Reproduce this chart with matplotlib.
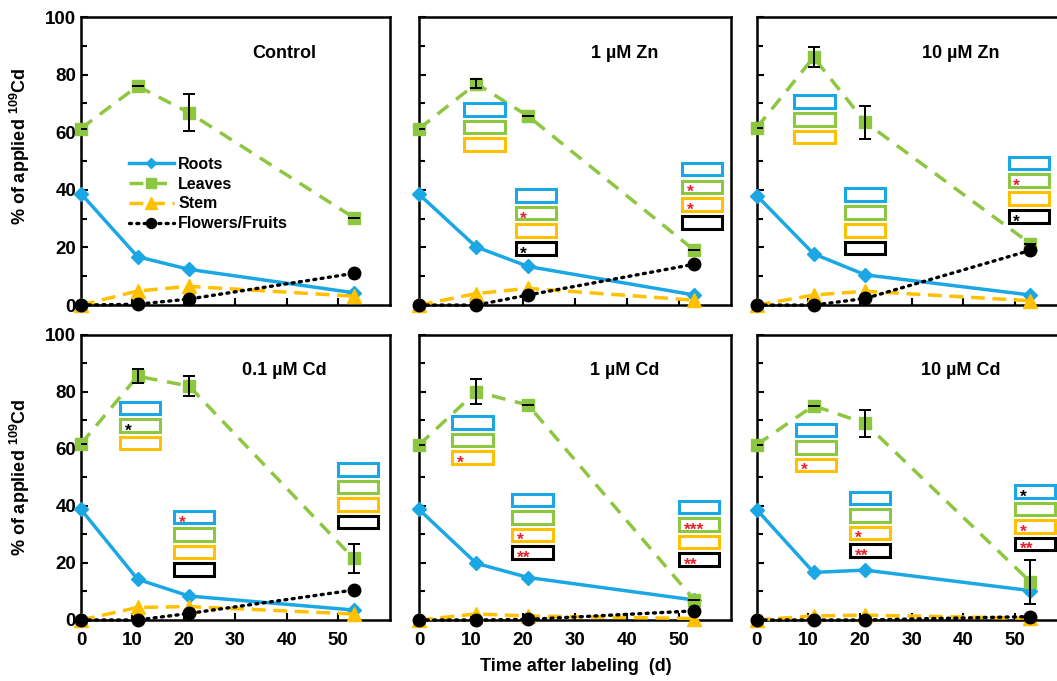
import matplotlib
matplotlib.use("Agg")
import matplotlib.pyplot as plt
from matplotlib.patches import Rectangle

plt.rcParams['font.family'] = ['Liberation Sans', 'DejaVu Sans']
plt.rcParams['font.weight'] = 'bold'
plt.rcParams['mathtext.fontset'] = 'custom'
plt.rcParams['mathtext.rm'] = 'Liberation Sans:bold'
plt.rcParams['mathtext.bf'] = 'Liberation Sans:bold'

# ---- data ----
days = [0, 11, 21, 53]
titles = ["Control", "1 µM Zn", "10 µM Zn", "0.1 µM Cd", "1 µM Cd", "10 µM Cd"]

roots = [
    [38.7, 16.8, 12.4, 4.3],
    [38.5, 20.2, 13.4, 3.5],
    [38.0, 17.8, 10.5, 3.5],
    [38.8, 14.3, 8.4, 3.5],
    [38.8, 19.9, 14.9, 7.0],
    [38.7, 16.7, 17.5, 10.3],
]
leaves = [
    [61.3, 76.0, 66.8, 30.4],
    [61.2, 76.9, 65.6, 19.0],
    [61.6, 86.0, 63.5, 21.3],
    [61.8, 85.5, 82.1, 21.6],
    [61.4, 80.1, 75.4, 7.0],
    [61.5, 75.2, 69.0, 13.4],
]
leaves_err = [
    [0, 0, 6.4, 0],
    [0, 1.5, 0, 0],
    [0, 3.5, 5.7, 0],
    [0, 2.5, 3.5, 5.1],
    [0, 4.4, 0, 0],
    [0, 0, 4.8, 7.8],
]
stem = [
    [0, 4.9, 6.5, 3.1],
    [0, 4.0, 5.8, 1.7],
    [0, 3.5, 4.8, 1.5],
    [0, 4.4, 4.7, 2.1],
    [0, 2.1, 1.4, 0.5],
    [0, 1.4, 1.7, 0.6],
]
flowers = [
    [0, 0.3, 2.1, 11.0],
    [0, 0, 3.5, 14.2],
    [0, 0, 2.3, 19.0],
    [0, 0, 2.3, 10.5],
    [0, 0, 0.2, 3.2],
    [0, 0, 0, 1.2],
]

# significance marks per box (roots, leaves, stem, flowers); prefix k = black
sig_marks = [
    [],
    [["", "", ""], ["", "*", "", "k*"], ["", "*", "*", ""]],
    [["", "", ""], ["", "", "", ""], ["", "*", "", "k*"]],
    [["", "k*", ""], ["*", "", "", ""], ["", "", "", ""]],
    [["", "", "*"], ["", "", "*", "**"], ["", "***", "", "**"]],
    [["", "", "*"], ["", "", "*", "**"], ["k*", "", "*", "**"]],
]
# layout of the box groups: (left day, centre of top box)
box_anchor = [
    [],
    [(8.7, 68.0), (18.6, 38.1), (50.6, 47.2)],
    [(7.3, 70.6), (17.1, 38.3), (48.8, 49.3)],
    [(7.6, 74.4), (18.1, 36.1), (50.0, 52.8)],
    [(6.4, 69.3), (17.9, 42.1), (50.0, 39.6)],
    [(7.6, 66.7), (18.1, 42.8), (50.0, 45.1)],
]

c_roots = '#1AA7E3'
c_leaves = '#8DC641'
c_stem = '#FFC000'
c_fl = '#000000'
box_colors = [c_roots, c_leaves, c_stem, c_fl]

fig = plt.figure(figsize=(10.57, 6.81), dpi=100)

lefts = [0.0766, 0.3964, 0.716]
widths = [0.292, 0.295, 0.293]
bottoms = [0.552, 0.0896]
heights = [0.423, 0.4185]
title_y = [0.875, 0.875]
ylab_y = [0.55, 0.5]

axes = []
for i in range(6):
    r, c = divmod(i, 3)
    ax = fig.add_axes([lefts[c], bottoms[r], widths[c], heights[r]])
    axes.append(ax)

    ax.plot(days, roots[i], color=c_roots, lw=2.5, marker='D', ms=7,
            label='Roots', clip_on=False, zorder=3)
    ax.plot(days, leaves[i], color=c_leaves, lw=2.5, ls=(0, (4, 2.8)),
            marker='s', ms=9, label='Leaves', clip_on=False, zorder=3)
    ax.errorbar(days, leaves[i], yerr=leaves_err[i], fmt='none', ecolor='black',
                elinewidth=1.4, capsize=4, capthick=1.4, zorder=4)
    ax.plot(days, stem[i], color=c_stem, lw=2.5, ls=(0, (4, 2.2)),
            marker='^', ms=10, label='Stem', clip_on=False, zorder=3)
    ax.plot(days, flowers[i], color=c_fl, lw=2.4, ls=(0, (0.6, 1.6)),
            dash_capstyle='round', marker='o', ms=9, label='Flowers/Fruits',
            clip_on=False, zorder=5)

    ax.set_xlim(0, 60)
    ax.set_ylim(0, 100)
    ax.set_xticks([0, 10, 20, 30, 40, 50])
    ax.set_yticks([0, 20, 40, 60, 80, 100])
    ax.set_yticks([10, 30, 50, 70, 90], minor=True)
    ax.tick_params(which='both', direction='in', width=1.5, labelsize=13.5)
    ax.tick_params(which='major', length=5)
    ax.tick_params(which='minor', length=4)
    ax.tick_params(axis='x', pad=9)
    for s in ax.spines.values():
        s.set_linewidth(1.8)
    if r == 0:
        ax.set_xticklabels([])
    if c > 0:
        ax.set_yticklabels([])
    for lab in ax.get_xticklabels() + ax.get_yticklabels():
        lab.set_fontweight('bold')

    ax.text(0.66, title_y[r], titles[i], transform=ax.transAxes, ha='center',
            va='center', fontsize=13, fontweight='bold')

    # significance boxes
    for (x0, y0), marks in zip(box_anchor[i], sig_marks[i]):
        for k, m in enumerate(marks):
            yc = y0 - k * 6.15
            ax.add_patch(Rectangle((x0, yc - 2.2), 7.8, 4.4, fill=False,
                                   edgecolor=box_colors[k], lw=2.2,
                                   zorder=6, clip_on=False))
            if m:
                col = '#E8202A'
                if m.startswith('k'):
                    col = 'black'
                    m = m[1:]
                ax.text(x0 + 0.9, yc - 2.0, m, color=col, fontsize=12.5,
                        fontweight='bold', ha='left', va='center', zorder=7)

    if c == 0:
        ax.set_ylabel(r'% of applied $^{\mathbf{109}}$Cd', fontsize=13,
                      fontweight='bold')
        ax.yaxis.set_label_coords(-0.16, ylab_y[r])

leg = axes[0].legend(loc='upper left', bbox_to_anchor=(0.155, 0.515),
                     frameon=False, fontsize=11.5, handlelength=2.8,
                     handletextpad=0.3, labelspacing=0.3, borderpad=0,
                     borderaxespad=0, markerscale=0.8)
for t in leg.get_texts():
    t.set_fontweight('bold')

fig.text(0.545, 0.021, 'Time after labeling  (d)', ha='center', va='center',
         fontsize=13, fontweight='bold')

fig.savefig('out.png', dpi=100)
